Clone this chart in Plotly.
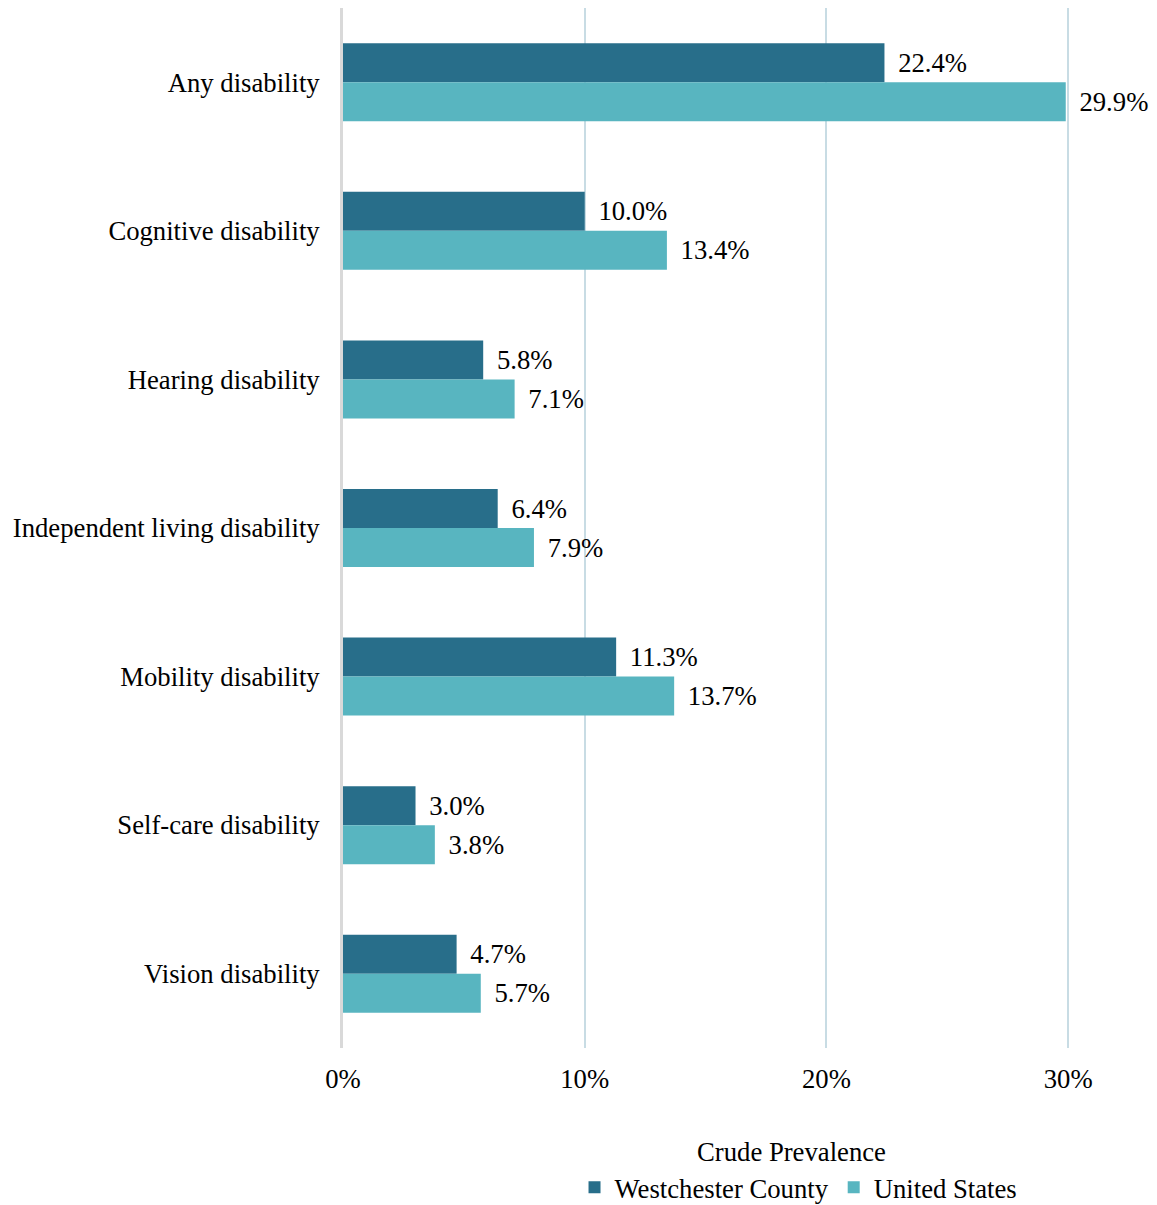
import plotly.graph_objects as go

categories = ["Any disability", "Cognitive disability", "Hearing disability",
              "Independent living disability", "Mobility disability",
              "Self-care disability", "Vision disability"]
westchester = [22.4, 10.0, 5.8, 6.4, 11.3, 3.0, 4.7]
united_states = [29.9, 13.4, 7.1, 7.9, 13.7, 3.8, 5.7]
x_ticks = [0, 10, 20, 30]
x_tick_labels = ["0%", "10%", "20%", "30%"]

FONT = "Liberation Serif, Times New Roman, serif"
FS = 26.7

fig = go.Figure()
fig.add_trace(go.Bar(
    y=categories, x=westchester, orientation="h", name="Westchester County",
    marker=dict(color="#286E8A", line=dict(width=0)),
    text=[f"\u2009\u2009{v:.1f}%" for v in westchester], textposition="outside",
    textfont=dict(family=FONT, size=FS, color="#000000"), cliponaxis=False,
))
fig.add_trace(go.Bar(
    y=categories, x=united_states, orientation="h", name="United States",
    marker=dict(color="#58B5C0", line=dict(width=0)),
    text=[f"\u2009\u2009{v:.1f}%" for v in united_states], textposition="outside",
    textfont=dict(family=FONT, size=FS, color="#000000"), cliponaxis=False,
))

fig.update_layout(
    width=1149, height=1197,
    margin=dict(l=335, r=84, t=0, b=157, autoexpand=False),
    paper_bgcolor="white", plot_bgcolor="white",
    barmode="group", bargap=0.475, bargroupgap=0,
    font=dict(family=FONT, size=FS, color="#000000"),
    showlegend=True,
    legend=dict(
        orientation="h", x=0.624, xanchor="center", y=-0.111, yanchor="top",
        font=dict(family=FONT, size=FS), traceorder="normal",
        itemwidth=30, tracegroupgap=0,
    ),
    annotations=[dict(
        text="Crude Prevalence", xref="paper", yref="paper",
        x=0.615, y=-0.1, xanchor="center", yanchor="middle",
        showarrow=False, font=dict(family=FONT, size=FS, color="#000000"),
    )],
    uniformtext=dict(mode=False),
)
fig.update_xaxes(
    range=[0, 30.2], tickvals=x_ticks, ticktext=x_tick_labels,
    showgrid=True, gridcolor="#C8DCE4", gridwidth=2,
    zeroline=False, showline=False, ticks="", ticklabelstandoff=12,
    tickfont=dict(family=FONT, size=FS), automargin=False,
)
fig.update_yaxes(
    categoryorder="array", categoryarray=categories, autorange="reversed",
    showgrid=False, zeroline=False, showline=True, linecolor="#D9D9D9", linewidth=3,
    ticks="", ticklabelstandoff=15, tickfont=dict(family=FONT, size=FS), automargin=False,
)

fig.write_html("out.html")
